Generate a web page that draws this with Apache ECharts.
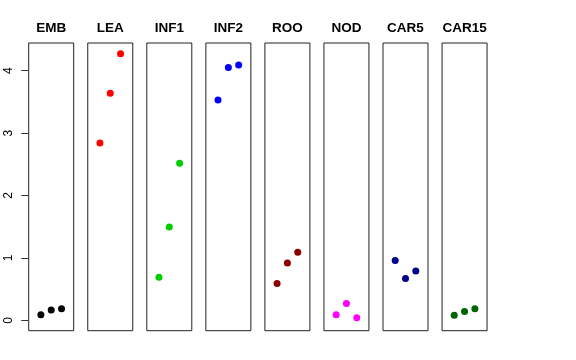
<!DOCTYPE html>
<html><head><meta charset="utf-8">
<script src="https://cdn.jsdelivr.net/npm/echarts@6/dist/echarts.min.js"></script>
<style>html,body{margin:0;padding:0;background:#fff}#c{width:576px;height:360px}</style>
</head><body><div id="c"></div>
<script>
const categories = ['EMB','LEA','INF1','INF2','ROO','NOD','CAR5','CAR15'];
const EMB   = [0.09, 0.165, 0.186];
const LEA   = [2.84, 3.64, 4.27];
const INF1  = [0.69, 1.495, 2.516];
const INF2  = [3.53, 4.05, 4.09];
const ROO   = [0.59, 0.92, 1.09];
const NOD   = [0.09, 0.27, 0.04];
const CAR5  = [0.96, 0.67, 0.79];
const CAR15 = [0.08, 0.14, 0.186];
const seriesValues = [EMB, LEA, INF1, INF2, ROO, NOD, CAR5, CAR15];
const colors = ['#000000','#FF0000','#00CD00','#0000FF','#8B0000','#FF00FF','#00008B','#006400'];
const yTicks = [0, 1, 2, 3, 4];

const FONT = 'Liberation Sans, Arial, Helvetica, sans-serif';
const panelLeft = 28.7, panelStep = 59.05, panelW = 45, panelTop = 43, panelH = 287.7;
const yMin = -0.166, yMax = 4.444;

const grid = [], xAxis = [], yAxis = [], series = [];
categories.forEach((name, i) => {
  grid.push({left: panelLeft + panelStep * i, top: panelTop, width: panelW, height: panelH,
    show: true, borderColor: '#222', borderWidth: 1, backgroundColor: 'transparent'});
  xAxis.push({type: 'value', gridIndex: i, min: -0.18, max: 4.18, position: 'top',
    name: name, nameLocation: 'middle', nameGap: 8,
    nameTextStyle: {fontFamily: FONT, fontWeight: 'bold', fontSize: 13.5, color: '#000'},
    axisLine: {show: false}, axisTick: {show: false}, axisLabel: {show: false}, splitLine: {show: false}});
  yAxis.push({type: 'value', gridIndex: i, min: yMin, max: yMax,
    axisLine: {show: false}, axisTick: {show: false}, axisLabel: {show: false}, splitLine: {show: false}});
  series.push({type: 'scatter', xAxisIndex: i, yAxisIndex: i, symbol: 'circle', symbolSize: 7,
    itemStyle: {color: colors[i], opacity: 1},
    data: seriesValues[i].map((v, j) => [j + 1, v])});
});
// separate axis grid for the left y axis (0..4)
const y0px = 320.3, y4px = 70.7;
grid.push({left: panelLeft, top: y4px, width: 1, height: y0px - y4px, show: false});
xAxis.push({type: 'value', gridIndex: 8, show: false});
yAxis.push({type: 'value', gridIndex: 8, min: yTicks[0], max: yTicks[yTicks.length - 1], interval: 1,
  axisLine: {show: false},
  axisTick: {show: true, length: 7.5, lineStyle: {color: '#333', width: 1}},
  axisLabel: {show: true, rotate: 90, margin: 14, fontFamily: FONT, fontSize: 12, color: '#000',
    formatter: v => String(v)},
  splitLine: {show: false}});

const chart = echarts.init(document.getElementById('c'), null, {renderer: 'canvas'});
chart.setOption({animation: false, backgroundColor: '#fff', grid, xAxis, yAxis, series});
</script></body></html>
